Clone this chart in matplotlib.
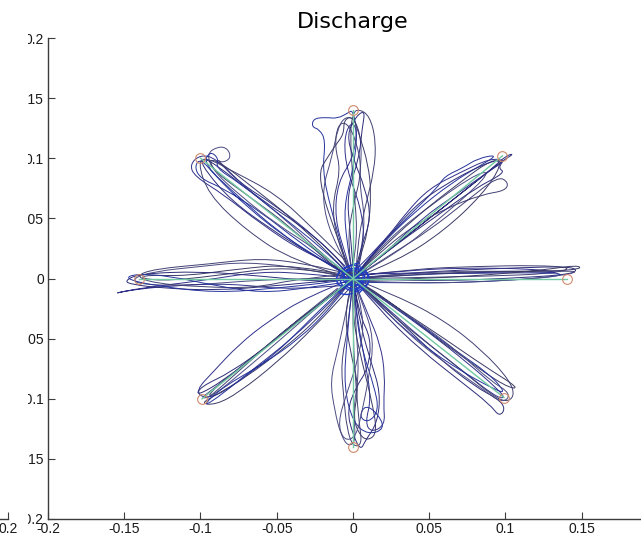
import matplotlib
matplotlib.use("Agg")
import matplotlib.pyplot as plt
from matplotlib.path import Path
from matplotlib.patches import PathPatch
from matplotlib.transforms import Bbox, TransformedBbox

# ---------------- data ----------------
title_text = "Discharge"
x_ticks = [-0.2, -0.15, -0.1, -0.05, 0, 0.05, 0.1, 0.15, 0.2]
x_tick_labels = ["-0.2", "-0.15", "-0.1", "-0.05", "0", "0.05", "0.1", "0.15", "0.2"]
y_ticks = [-0.2, -0.15, -0.1, -0.05, 0, 0.05, 0.1, 0.15, 0.2]
y_tick_labels = ["-0.2", "-0.15", "-0.1", "-0.05", "0", "0.05", "0.1", "0.15", "0.2"]

targets_x = [0.14, 0.098, 0.0, -0.1, -0.14, -0.099, 0.0, 0.099]
targets_y = [0.0, 0.102, 0.14, 0.1, 0.0, -0.1, -0.14, -0.099]

traj_right = [
    [(0, 0), (0.03, 0.004), (0.07, 0.007), (0.11, 0.009), (0.14, 0.01), (0.148, 0.007), (0.14, 0.003), (0.1, 0.0), (0.06, -0.002), (0.02, -0.001), (0, 0)],
    [(0, 0.002), (0.04, 0.008), (0.08, 0.01), (0.12, 0.011), (0.145, 0.009), (0.13, 0.004), (0.09, 0.002), (0.05, 0.001), (0.01, 0.0)],
    [(0, -0.003), (0.04, -0.004), (0.08, -0.003), (0.12, 0.0), (0.14, 0.003), (0.125, 0.006), (0.08, 0.005), (0.04, 0.003), (0, 0)],
    [(0, 0), (0.05, 0.006), (0.1, 0.006), (0.135, 0.006), (0.149, 0.006), (0.135, 0.002), (0.1, -0.002), (0.05, -0.004), (0, -0.002)],
    [(0, 0.003), (0.03, 0.005), (0.07, 0.004), (0.11, 0.005), (0.138, 0.004), (0.12, 0.008), (0.07, 0.009), (0.03, 0.006), (0, 0.002)],
    [(0, -0.002), (0.05, 0.0), (0.1, 0.004), (0.13, 0.008), (0.147, 0.011), (0.15, 0.008), (0.13, 0.006), (0.09, 0.006), (0.05, 0.004), (0.0, 0.0)],
]
traj_upright = [
    [(0, 0), (0.02, 0.02), (0.045, 0.045), (0.07, 0.07), (0.09, 0.09), (0.1, 0.102), (0.106, 0.104), (0.098, 0.098), (0.075, 0.075), (0.05, 0.05), (0.025, 0.025), (0, 0)],
    [(0, 0), (0.025, 0.02), (0.05, 0.04), (0.075, 0.065), (0.095, 0.085), (0.102, 0.08), (0.1, 0.073), (0.085, 0.07), (0.06, 0.058), (0.035, 0.04), (0.012, 0.015), (0, 0)],
    [(0, 0), (0.015, 0.025), (0.035, 0.05), (0.055, 0.075), (0.06, 0.085), (0.072, 0.092), (0.082, 0.1), (0.095, 0.103), (0.085, 0.095), (0.065, 0.08), (0.04, 0.055), (0.02, 0.03), (0, 0)],
    [(0, 0), (0.03, 0.022), (0.055, 0.048), (0.08, 0.075), (0.09, 0.09), (0.078, 0.085), (0.05, 0.06), (0.025, 0.035), (0, 0)],
    [(0, 0.005), (0.02, 0.03), (0.035, 0.055), (0.05, 0.075), (0.07, 0.088), (0.09, 0.1), (0.1, 0.098), (0.09, 0.09), (0.07, 0.072), (0.045, 0.05), (0.02, 0.02), (0, 0)],
    [(0, 0), (0.03, 0.015), (0.06, 0.04), (0.085, 0.07), (0.098, 0.095), (0.092, 0.1), (0.07, 0.08), (0.04, 0.05), (0.015, 0.02), (0, 0)],
    [(0, 0), (0.02, 0.03), (0.04, 0.06), (0.06, 0.078), (0.085, 0.095), (0.1, 0.1), (0.095, 0.092), (0.1, 0.088), (0.08, 0.075), (0.055, 0.052), (0.03, 0.03), (0, 0)],
]
traj_up = [
    [(0.002, 0.005), (0.003, 0.03), (0.008, 0.06), (0.014, 0.09), (0.015, 0.115), (0.011, 0.135), (0.004, 0.141), (0.0, 0.138), (-0.002, 0.12), (0.0, 0.08), (0.003, 0.04), (0.0, 0.01)],
    [(-0.003, 0.004), (-0.008, 0.03), (-0.015, 0.06), (-0.02, 0.09), (-0.018, 0.115), (-0.022, 0.124), (-0.027, 0.126), (-0.026, 0.133), (-0.018, 0.134), (-0.01, 0.133), (-0.003, 0.138), (0.0, 0.14), (0.003, 0.12), (0.0, 0.09), (-0.006, 0.06), (-0.004, 0.03), (0.0, 0.0)],
    [(0.0, 0.0), (-0.01, 0.025), (-0.018, 0.05), (-0.02, 0.075), (-0.014, 0.1), (-0.01, 0.125), (-0.005, 0.135), (0.002, 0.132), (0.006, 0.11), (0.004, 0.08), (0.008, 0.05), (0.005, 0.02), (0.001, 0.0)],
    [(0.002, 0.0), (0.008, 0.03), (0.005, 0.06), (-0.004, 0.09), (-0.006, 0.115), (-0.002, 0.13), (0.003, 0.125), (0.0, 0.1), (-0.01, 0.08), (-0.012, 0.05), (-0.005, 0.02), (0, 0)],
    [(0, 0), (-0.006, 0.02), (-0.012, 0.04), (-0.02, 0.07), (-0.022, 0.09), (-0.017, 0.1), (-0.012, 0.11), (-0.006, 0.12), (-0.006, 0.132), (0.0, 0.135), (0.004, 0.12), (0.01, 0.095), (0.012, 0.07), (0.01, 0.04), (0.004, 0.015), (0, 0)],
    [(0, 0), (0.005, 0.025), (0.012, 0.05), (0.008, 0.075), (0.0, 0.1), (-0.004, 0.12), (0.002, 0.135), (0.008, 0.14), (0.006, 0.125), (0.004, 0.1), (-0.004, 0.07), (-0.002, 0.04), (0.0, 0.01)],
    [(0, 0), (-0.004, 0.03), (0.0, 0.06), (0.006, 0.09), (0.002, 0.115), (-0.004, 0.13), (-0.01, 0.128), (-0.012, 0.11), (-0.008, 0.09), (-0.014, 0.06), (-0.01, 0.03), (0, 0)],
]
traj_upleft = [
    [(0, 0), (-0.02, 0.015), (-0.045, 0.035), (-0.07, 0.06), (-0.09, 0.085), (-0.1, 0.1), (-0.104, 0.093), (-0.1, 0.083), (-0.085, 0.075), (-0.06, 0.055), (-0.035, 0.03), (-0.01, 0.008), (0, 0)],
    [(0, 0), (-0.025, 0.025), (-0.05, 0.045), (-0.075, 0.07), (-0.092, 0.09), (-0.096, 0.104), (-0.088, 0.11), (-0.082, 0.108), (-0.08, 0.1), (-0.086, 0.096), (-0.09, 0.1), (-0.07, 0.075), (-0.045, 0.05), (-0.02, 0.02), (0, 0)],
    [(0.003, 0.002), (-0.03, 0.02), (-0.06, 0.045), (-0.085, 0.07), (-0.104, 0.085), (-0.107, 0.095), (-0.1, 0.103), (-0.09, 0.1), (-0.075, 0.08), (-0.05, 0.06), (-0.025, 0.035), (-0.005, 0.01)],
    [(0, 0), (-0.015, 0.02), (-0.04, 0.05), (-0.065, 0.075), (-0.085, 0.095), (-0.095, 0.1), (-0.09, 0.088), (-0.07, 0.07), (-0.04, 0.042), (-0.015, 0.012), (0, 0)],
    [(0, 0), (-0.03, 0.022), (-0.055, 0.042), (-0.08, 0.065), (-0.097, 0.09), (-0.1, 0.1), (-0.092, 0.097), (-0.06, 0.065), (-0.035, 0.045), (-0.012, 0.02), (0, 0)],
    [(-0.002, 0.0), (-0.04, 0.015), (-0.07, 0.04), (-0.095, 0.07), (-0.102, 0.098), (-0.095, 0.1), (-0.08, 0.09), (-0.05, 0.07), (-0.025, 0.04), (-0.005, 0.015)],
    [(0, 0), (-0.025, 0.018), (-0.05, 0.04), (-0.075, 0.068), (-0.098, 0.095), (-0.094, 0.106), (-0.088, 0.1), (-0.09, 0.092), (-0.075, 0.08), (-0.05, 0.055), (-0.02, 0.025), (0, 0)],
]
traj_left = [
    [(0, 0), (-0.03, 0.008), (-0.07, 0.014), (-0.1, 0.01), (-0.13, 0.006), (-0.145, 0.0), (-0.14, -0.005), (-0.11, -0.006), (-0.07, -0.002), (-0.035, 0.0), (0, 0)],
    [(0, -0.005), (-0.04, -0.01), (-0.08, -0.004), (-0.12, -0.006), (-0.148, -0.01), (-0.158, -0.013), (-0.14, -0.008), (-0.1, -0.002), (-0.06, 0.006), (-0.03, 0.004), (0, 0)],
    [(0, 0.002), (-0.04, 0.012), (-0.075, 0.008), (-0.11, 0.002), (-0.135, 0.003), (-0.14, 0.0), (-0.12, -0.002), (-0.08, 0.004), (-0.05, 0.009), (-0.02, 0.006), (0, 0)],
    [(0, 0), (-0.05, -0.006), (-0.09, -0.01), (-0.125, -0.008), (-0.145, -0.005), (-0.15, -0.002), (-0.14, 0.004), (-0.1, 0.006), (-0.06, 0.002), (-0.02, -0.003), (0, 0)],
    [(0, 0.004), (-0.035, 0.0), (-0.065, -0.008), (-0.1, -0.007), (-0.13, -0.004), (-0.143, 0.002), (-0.13, 0.008), (-0.095, 0.012), (-0.06, 0.017), (-0.03, 0.012), (0, 0.003)],
    [(0, -0.002), (-0.03, -0.008), (-0.06, -0.012), (-0.09, -0.006), (-0.12, 0.002), (-0.142, 0.004), (-0.15, 0.0), (-0.13, -0.006), (-0.09, -0.012), (-0.05, -0.008), (-0.02, -0.004), (0, 0)],
]
traj_downleft = [
    [(0, 0), (-0.025, -0.025), (-0.05, -0.05), (-0.075, -0.075), (-0.095, -0.095), (-0.1, -0.1), (-0.092, -0.098), (-0.07, -0.075), (-0.045, -0.048), (-0.02, -0.02), (0, 0)],
    [(0, 0), (-0.03, -0.015), (-0.055, -0.035), (-0.075, -0.055), (-0.092, -0.078), (-0.103, -0.093), (-0.098, -0.1), (-0.085, -0.095), (-0.065, -0.075), (-0.04, -0.05), (-0.015, -0.02), (0, 0)],
    [(0, 0), (-0.02, -0.03), (-0.045, -0.058), (-0.07, -0.082), (-0.09, -0.097), (-0.1, -0.104), (-0.09, -0.105), (-0.075, -0.095), (-0.05, -0.07), (-0.025, -0.04), (0, -0.005)],
    [(0, 0), (-0.03, -0.028), (-0.06, -0.06), (-0.085, -0.085), (-0.103, -0.098), (-0.1, -0.09), (-0.08, -0.078), (-0.055, -0.055), (-0.03, -0.03), (0, 0)],
    [(0.002, 0), (-0.02, -0.02), (-0.04, -0.038), (-0.065, -0.065), (-0.09, -0.09), (-0.096, -0.1), (-0.088, -0.092), (-0.06, -0.06), (-0.035, -0.033), (-0.01, -0.008)],
    [(0, 0), (-0.015, -0.025), (-0.035, -0.05), (-0.06, -0.072), (-0.085, -0.09), (-0.098, -0.105), (-0.093, -0.103), (-0.078, -0.088), (-0.05, -0.062), (-0.025, -0.03), (0, 0)],
]
traj_down = [
    [(0, 0), (-0.005, -0.03), (-0.01, -0.06), (-0.015, -0.085), (-0.012, -0.11), (-0.008, -0.13), (-0.003, -0.14), (0.002, -0.135), (0.0, -0.11), (0.004, -0.08), (0.002, -0.04), (0, 0)],
    [(0, 0), (0.01, -0.03), (0.018, -0.055), (0.021, -0.08), (0.02, -0.105), (0.021, -0.122), (0.012, -0.128), (0.008, -0.12), (0.012, -0.1), (0.008, -0.07), (0.003, -0.035), (0, 0)],
    [(0, 0), (-0.006, -0.025), (-0.002, -0.06), (0.004, -0.09), (0.0, -0.115), (0.004, -0.13), (0.01, -0.135), (0.016, -0.128), (0.012, -0.1), (0.006, -0.07), (0.0, -0.035), (0, 0)],
    [(0, 0), (0.004, -0.03), (0.012, -0.05), (0.01, -0.075), (0.002, -0.09), (-0.004, -0.11), (0.0, -0.13), (0.005, -0.143), (0.008, -0.135), (0.016, -0.12), (0.018, -0.095), (0.012, -0.07), (0.005, -0.04), (0, 0)],
    [(0, 0), (-0.003, -0.04), (-0.008, -0.07), (-0.006, -0.1), (-0.004, -0.125), (0.0, -0.14), (0.006, -0.138), (0.004, -0.12), (0.002, -0.09), (0.0, -0.05), (0, 0)],
    [(0, 0), (0.002, -0.03), (0.006, -0.06), (0.014, -0.09), (0.017, -0.11), (0.01, -0.12), (0.004, -0.115), (0.008, -0.105), (0.016, -0.112), (0.021, -0.125), (0.01, -0.13), (0.0, -0.12), (-0.006, -0.09), (-0.004, -0.05), (0, 0)],
    [(0, 0), (0.008, -0.03), (0.004, -0.065), (-0.004, -0.095), (-0.01, -0.12), (-0.006, -0.135), (0.002, -0.132), (0.006, -0.11), (0.01, -0.085), (0.014, -0.05), (0.006, -0.02), (0, 0)],
]
traj_downright = [
    [(0, 0), (0.025, -0.022), (0.05, -0.045), (0.075, -0.07), (0.095, -0.092), (0.1, -0.1), (0.093, -0.098), (0.07, -0.075), (0.045, -0.05), (0.02, -0.022), (0, 0)],
    [(0, 0), (0.03, -0.025), (0.06, -0.05), (0.085, -0.072), (0.11, -0.092), (0.1, -0.09), (0.075, -0.068), (0.05, -0.045), (0.02, -0.015), (0, 0)],
    [(0, 0), (0.02, -0.03), (0.045, -0.06), (0.07, -0.085), (0.09, -0.105), (0.096, -0.115), (0.1, -0.108), (0.095, -0.1), (0.08, -0.09), (0.055, -0.065), (0.03, -0.035), (0.005, -0.005)],
    [(0, 0), (0.03, -0.015), (0.06, -0.035), (0.085, -0.06), (0.103, -0.085), (0.106, -0.098), (0.1, -0.103), (0.09, -0.096), (0.075, -0.08), (0.05, -0.055), (0.025, -0.03), (0, 0)],
    [(0, 0), (0.035, -0.03), (0.065, -0.058), (0.09, -0.08), (0.1, -0.095), (0.094, -0.093), (0.072, -0.078), (0.045, -0.055), (0.015, -0.02), (0, 0)],
    [(0, 0), (0.02, -0.018), (0.045, -0.038), (0.07, -0.062), (0.09, -0.085), (0.104, -0.096), (0.098, -0.104), (0.085, -0.092), (0.06, -0.07), (0.035, -0.045), (0.01, -0.012), (0, 0)],
]
traj_center = [
    [(0, 0), (0.006, 0.004), (-0.004, 0.008), (-0.008, -0.002), (0.002, -0.008), (0.007, 0.0), (-0.003, 0.005), (-0.006, -0.007), (0.004, -0.01), (0.008, 0.006), (0, 0.01), (-0.008, 0.003), (0.0, -0.005)],
    [(-0.002, 0.002), (0.005, -0.006), (0.009, 0.003), (0.001, 0.009), (-0.007, 0.006), (-0.009, -0.004), (-0.002, -0.011), (0.006, -0.008), (0.003, 0.002), (-0.005, 0.0)],
    [(-0.01, 0.004), (-0.004, 0.012), (0.006, 0.01), (0.011, 0.002), (0.006, -0.006), (-0.003, -0.004), (-0.011, -0.01), (-0.006, -0.014), (0.002, -0.012), (0.01, -0.004)],
    [(0.004, 0.013), (-0.006, 0.01), (-0.012, 0.0), (-0.008, -0.008), (0.0, -0.003), (0.008, 0.008), (0.012, -0.002), (0.004, -0.012)],
]

# ---------------- styling ----------------
line_colors = ["#2c2c78", "#414173", "#25339a", "#4b4b82", "#30308a", "#3a3a66"]
green = "#72c9a2"
circle_color = "#d08a6c"

plt.rcParams["font.family"] = ["Liberation Sans", "DejaVu Sans"]

fig = plt.figure(figsize=(6.41, 5.37), dpi=100)
W, H = 641.0, 537.0
ax_left_px, ax_right_px = 48.0, 658.0
ax_top_px, ax_bottom_px = 38.0, 519.0
pos = [ax_left_px / W, 1 - ax_bottom_px / H, (ax_right_px - ax_left_px) / W, (ax_bottom_px - ax_top_px) / H]

# neighbouring subplot, only its right end visible
ax0 = fig.add_axes([(8.0 - (ax_right_px - ax_left_px)) / W, pos[1], pos[2], pos[3]])
ax = fig.add_axes(pos)

for a in (ax0, ax):
    a.set_xlim(-0.2, 0.2)
    a.set_ylim(-0.2, 0.2)
    a.set_xticks(x_ticks)
    a.set_xticklabels(x_tick_labels)
    a.set_yticks(y_ticks)
    a.set_yticklabels(y_tick_labels)
    for s in ("top", "right"):
        a.spines[s].set_visible(False)
    for s in ("left", "bottom"):
        a.spines[s].set_color("#3c3c3c")
        a.spines[s].set_linewidth(1.0)
    a.tick_params(direction="in", length=5, width=0.8, color="#3c3c3c",
                  labelsize=10, labelcolor="#1a1a1a")
    a.tick_params(axis="x", pad=2)
    a.tick_params(axis="y", pad=3)
    a.patch.set_alpha(0)


def smooth_path(points):
    verts = [points[0]]
    codes = [Path.MOVETO]
    for i in range(1, len(points) - 1):
        p = points[i]
        q = points[i + 1]
        verts.append(p)
        verts.append(((p[0] + q[0]) / 2.0, (p[1] + q[1]) / 2.0))
        codes += [Path.CURVE3, Path.CURVE3]
    verts.append(points[-1])
    codes.append(Path.LINETO)
    return Path(verts, codes)


arms = [traj_right, traj_upright, traj_up, traj_upleft, traj_left,
        traj_downleft, traj_down, traj_downright]
k = 0
for arm in arms:
    for tr in arm:
        patch = PathPatch(smooth_path(tr), facecolor="none",
                          edgecolor=line_colors[k % len(line_colors)],
                          linewidth=0.7, transform=ax.transData, zorder=2)
        ax.add_patch(patch)
        k += 1
for tr in traj_center:
    ax.add_patch(PathPatch(smooth_path(tr), facecolor="none", edgecolor="#1f3cc4",
                           linewidth=1.0, transform=ax.transData, zorder=2))

# straight target lines and target circles
for tx, ty in zip(targets_x, targets_y):
    ax.plot([0, tx], [0, ty], color=green, linewidth=1.0, zorder=3)
ax.plot(targets_x, targets_y, linestyle="none", marker="o", markersize=7,
        markerfacecolor="none", markeredgecolor=circle_color, markeredgewidth=0.8, zorder=4)

# y tick labels are cut off on their left side in the reference
clip_bb = TransformedBbox(Bbox([[28.0 / W, 0.0], [1.0, 1.0]]), fig.transFigure)
for t in ax.yaxis.get_major_ticks():
    t.label1.set_clip_box(clip_bb)
    t.label1.set_clip_on(True)

fig.text(353.0 / W, 1 - 22.0 / H, title_text, ha="center", va="center",
         fontsize=16, family=["DejaVu Sans"], color="#000000")

fig.savefig("out.png", dpi=100)
